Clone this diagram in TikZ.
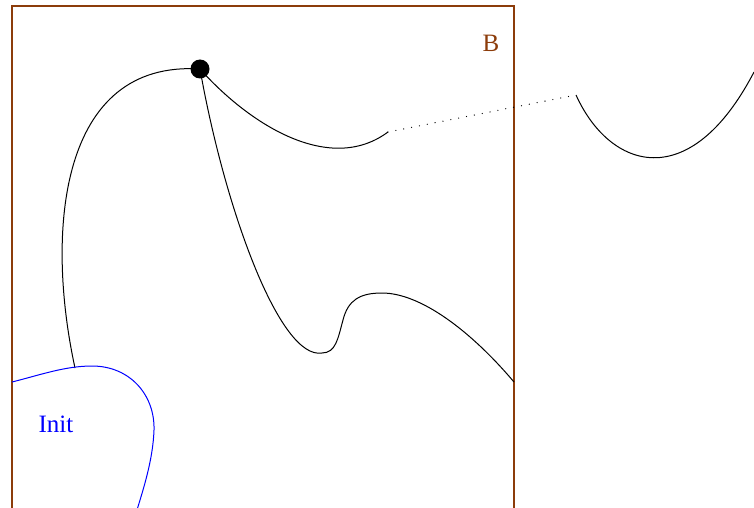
\documentclass[tikz,border=0pt]{standalone}
\usepackage{fontspec}
\setmainfont{Liberation Serif}
\definecolor{boxbrown}{RGB}{140,60,10}
\begin{document}
\begin{tikzpicture}[x=1pt,y=-1pt,
  curve/.style={black,line width=1pt},
  lbl/.style={font=\fontsize{25}{28}\selectfont,inner sep=0pt}]
\useasboundingbox (0,0) rectangle (754,508);
\clip (0,0) rectangle (754,508);
% box B
\draw[boxbrown,line width=1.2pt] (12,510) -- (12,6) -- (514,6) -- (514,510);
\node[lbl,text=boxbrown] (B) at (491,43) {B};
% points
\node[circle,fill=black,minimum size=19pt,inner sep=0pt] (dot) at (200,69) {};
\coordinate (a) at (75,368);
\coordinate (c1) at (388,132);
\coordinate (c2) at (576,95);
\coordinate (c3) at (754,72);
\coordinate (m1) at (322,353);
\coordinate (ms) at (343,320);
\coordinate (m2) at (382,293);
\coordinate (m3) at (514,382);
\coordinate (i0) at (12,382);
\coordinate (i1) at (92,366);
\coordinate (i2) at (154,430);
\coordinate (i3) at (137,510);
% curves
\draw[curve] (dot.center) .. controls (60,60) and (45,230) .. (a);
\draw[curve] (dot.center) .. controls (250,125) and (330,175) .. (c1);
\draw[black,line width=1.3pt,line cap=round,dash pattern=on 0pt off 8pt] (c1) -- (c2);
\draw[curve] (c2) .. controls (610,170) and (690,195) .. (c3);
\draw[curve] (dot.center) .. controls (225,210) and (280,360) .. (m1)
  .. controls (336,353) and (338,338) .. (ms)
  .. controls (348,300) and (360,293) .. (m2)
  .. controls (420,293) and (470,330) .. (m3);
\draw[blue,line width=1pt] (i0) .. controls (40,375) and (65,366) .. (i1)
  .. controls (130,366) and (155,395) .. (i2)
  .. controls (153,460) and (143,490) .. (i3);
\node[lbl,text=blue] (init) at (56,424) {Init};
\end{tikzpicture}
\end{document}
